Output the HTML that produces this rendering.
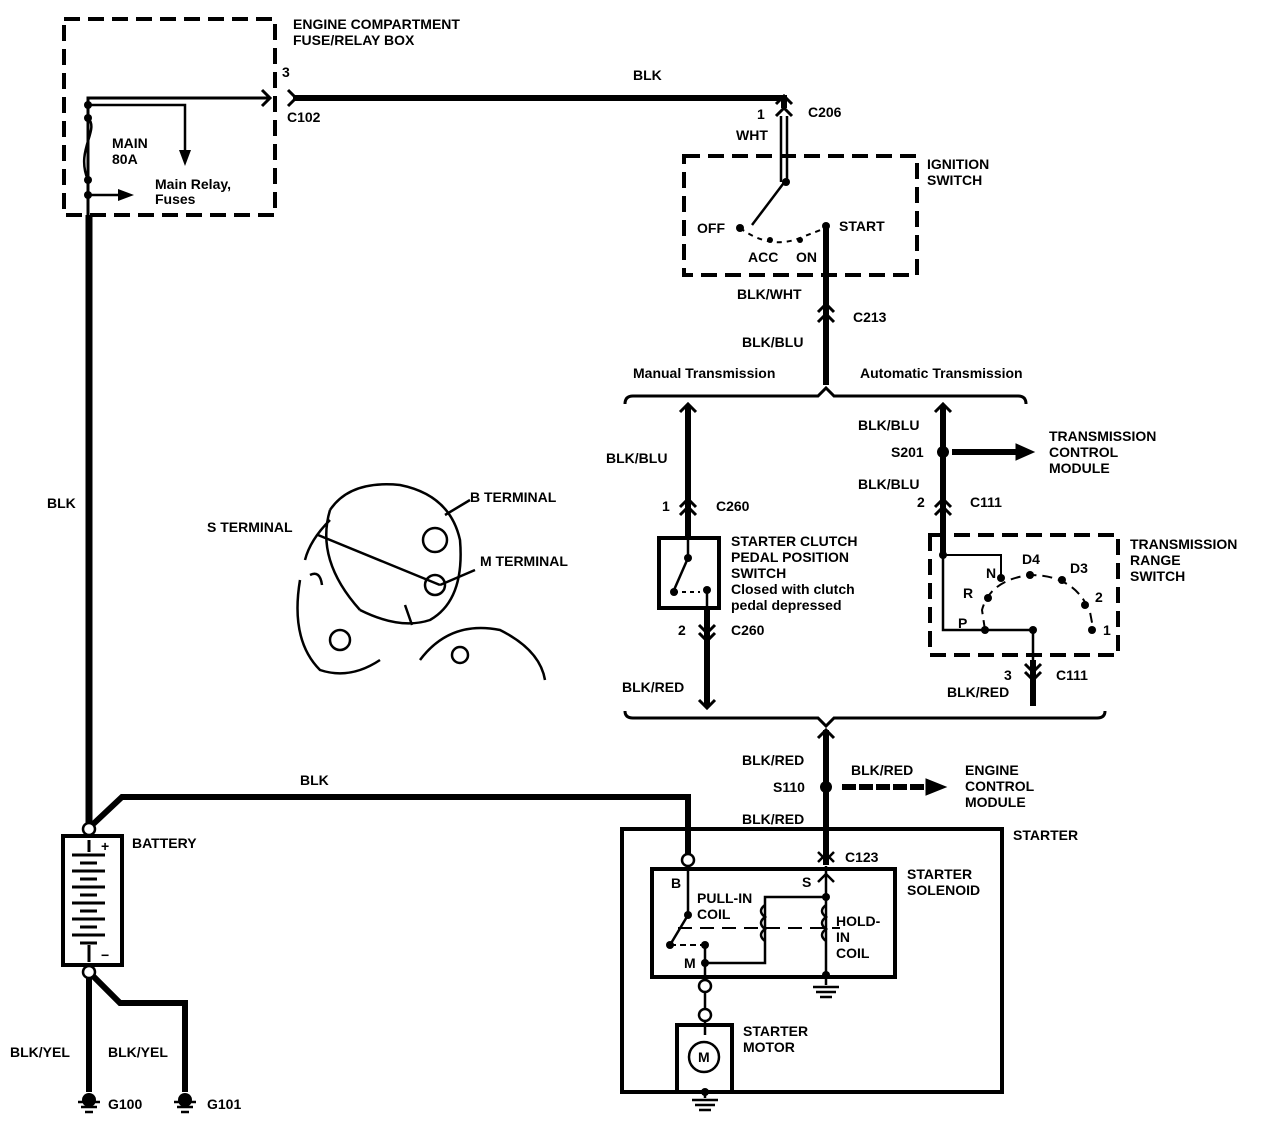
<!DOCTYPE html>
<html><head><meta charset="utf-8"><style>
html,body{margin:0;padding:0;background:#fff}
svg{display:block}
text{font-family:"Liberation Sans",Arial,sans-serif;font-weight:bold;font-size:14px;fill:#000}
</style></head><body>
<svg width="1280" height="1142" viewBox="0 0 1280 1142" xmlns="http://www.w3.org/2000/svg">
<g fill="none" stroke="#000" stroke-linecap="butt">
<!-- fuse box -->
<rect x="64" y="19" width="211" height="196" stroke-width="4" stroke-dasharray="16,8"/>
<path d="M88 215 V98 H268" stroke-width="3"/>
<path d="M262 90 L270 98 L262 106" stroke-width="3"/>
<path d="M88 105 H185 V152" stroke-width="2.5"/>
<path d="M88 118 C100 130 75 150 88 180" stroke-width="2.5"/>
<path d="M88 195 H120" stroke-width="2.5"/>
<!-- main BLK to C206 -->
<path d="M288 90 L296 98 L288 106" stroke-width="3"/>
<path d="M293 98 H784 V108" stroke-width="6"/>
<path d="M776 104 L784 96 L792 104" stroke-width="3"/>
<path d="M776 116 L784 108 L792 116" stroke-width="3"/>
<path d="M781 116 V182 M787 116 V182" stroke-width="2.5"/>
<!-- left BLK -->
<path d="M89 215 V828" stroke-width="7"/>
<!-- ignition switch -->
<rect x="684" y="156" width="233" height="119" stroke-width="4" stroke-dasharray="16,8"/>
<path d="M786 180 L752 225" stroke-width="2.5"/>
<path d="M740 228 Q770 250 800 238 Q815 232 826 228" stroke-width="2" stroke-dasharray="5,5"/>
<path d="M826 228 V385" stroke-width="6"/>
<path d="M818 312 L826 304 L834 312 M818 322 L826 314 L834 322" stroke-width="3"/>
<!-- top bracket -->
<path d="M625 404 Q625 396 633 396 H818 L826 388 L834 396 H1018 Q1026 396 1026 404" stroke-width="3"/>
<!-- manual branch -->
<path d="M688 406 V538" stroke-width="6"/>
<path d="M680 412 L688 404 L696 412" stroke-width="3"/>
<path d="M680 507 L688 499 L696 507 M680 515 L688 507 L696 515" stroke-width="3"/>
<rect x="659" y="538" width="60" height="70" stroke-width="4"/>
<path d="M688 538 V558 L674 590" stroke-width="2.5"/>
<path d="M674 592 H700" stroke-width="2" stroke-dasharray="4,4"/>
<path d="M707 590 V608" stroke-width="2.5"/>
<path d="M707 608 V706" stroke-width="6"/>
<path d="M699 625 L707 633 L715 625 M699 633 L707 641 L715 633" stroke-width="3"/>
<path d="M699 700 L707 708 L715 700" stroke-width="3"/>
<!-- auto branch -->
<path d="M943 406 V555" stroke-width="6"/>
<path d="M935 412 L943 404 L951 412" stroke-width="3"/>
<path d="M935 507 L943 499 L951 507 M935 515 L943 507 L951 515" stroke-width="3"/>
<path d="M952 452 H1020" stroke-width="6"/>
<path d="M1016 444 L1034 452 L1016 460 Z" fill="#000"/>
<rect x="930" y="535" width="188" height="120" stroke-width="4" stroke-dasharray="16,8"/>
<path d="M943 555 V630 H985 H1033 V700" stroke-width="2.5"/>
<path d="M943 555 H1001 V578" stroke-width="2"/>
<path d="M985 630 L982 610 Q990 580 1030 575 Q1075 575 1090 612 L1093 628" stroke-width="2" stroke-dasharray="10,6"/>
<path d="M1033 660 V706" stroke-width="6"/>
<path d="M1025 664 L1033 672 L1041 664 M1025 672 L1033 680 L1041 672" stroke-width="3"/>
<!-- bottom bracket -->
<path d="M625 711 Q625 718 633 718 H818 L826 726 L834 718 H1097 Q1105 718 1105 711" stroke-width="3"/>
<path d="M826 730 V865" stroke-width="6"/>
<path d="M818 738 L826 730 L834 738" stroke-width="3"/>
<path d="M842 787 H930" stroke-width="6" stroke-dasharray="14,3"/>
<path d="M926 779 L946 787 L926 795 Z" fill="#000"/>
<path d="M818 852 L826 860 L834 852 M818 862 L826 854 L834 862" stroke-width="2.5"/>
<!-- battery BLK to starter -->
<path d="M89 828 L122 797 H688 V855" stroke-width="6"/>
<!-- battery -->
<rect x="63" y="836" width="59" height="129" stroke-width="4"/>
<g stroke-width="3">
<path d="M89 840 V852 M72 855 H105 M80 863 H97 M72 871 H105 M80 879 H97 M72 887 H105 M80 895 H97 M72 903 H105 M80 911 H97 M72 919 H105 M80 927 H97 M72 935 H105 M80 943 H97 M89 945 V962"/>
</g>
<path d="M89 975 V1092" stroke-width="6"/>
<path d="M92 975 L120 1003 H185 V1092" stroke-width="6"/>
<!-- starter box -->
<rect x="622" y="829" width="380" height="263" stroke-width="4"/>
<rect x="652" y="869" width="243" height="108" stroke-width="4"/>
<path d="M688 866 V915 L670 945" stroke-width="2.5"/>
<path d="M670 945 H705" stroke-width="2" stroke-dasharray="6,4"/>
<path d="M705 945 V978 M705 963 H765 V897 H826" stroke-width="2.5"/>
<path d="M826 866 V975" stroke-width="2.5"/>
<path d="M818 882 L826 874 L834 882" stroke-width="2.5"/>
<path d="M765 905 q-8 6 0 12 q-8 6 0 12 q-8 6 0 12 M826 905 q-8 6 0 12 q-8 6 0 12 q-8 6 0 12" stroke-width="2.5"/>
<path d="M678 928 H840" stroke-width="2" stroke-dasharray="14,8"/>
<path d="M705 978 V1012 M705 1016 V1035" stroke-width="2.5"/>
<rect x="677" y="1025" width="55" height="67" stroke-width="4"/>
<circle cx="704" cy="1057" r="15" stroke-width="2.5"/>
<path d="M705 1092 V1098 M692 1100 H718 M695 1105 H715 M699 1110 H711" stroke-width="2.5"/>
<path d="M826 978 V985 M813 987 H839 M816 992 H836 M820 997 H832" stroke-width="2.5"/>
<!-- grounds -->
<path d="M78 1102 H100 M81 1107 H97 M85 1112 H93 M174 1102 H196 M177 1107 H193 M181 1112 H189" stroke-width="2.5"/>
<!-- starter illustration -->
<g stroke-width="2.5">
<path d="M330 510 Q350 480 400 485 Q450 495 460 540 Q465 600 430 620 Q400 630 360 610"/>
<path d="M330 510 Q315 560 360 610 M305 560 Q310 540 330 520"/>
<path d="M300 580 Q290 640 320 670 Q350 680 380 660"/>
<path d="M420 660 Q450 620 500 630 Q540 650 545 680"/>
<circle cx="340" cy="640" r="10"/><circle cx="460" cy="655" r="8"/>
<circle cx="435" cy="540" r="12"/><circle cx="435" cy="585" r="10"/>
<path d="M318 535 L440 585 M445 515 L470 500 M440 585 L475 570"/>
<path d="M405 605 L412 625 M310 575 q10 -5 12 10"/>
</g>
</g>
<!-- arrowheads fuse box -->
<path d="M179 150 L185 166 L191 150 Z" fill="#000"/>
<path d="M118 189 L134 195 L118 201 Z" fill="#000"/>
<!-- dots -->
<g fill="#000">
<circle cx="88" cy="105" r="4"/><circle cx="88" cy="118" r="4"/><circle cx="88" cy="180" r="4"/><circle cx="88" cy="195" r="4"/>
<circle cx="786" cy="182" r="4"/><circle cx="740" cy="228" r="4"/><circle cx="826" cy="226" r="4"/>
<circle cx="770" cy="240" r="3"/><circle cx="800" cy="240" r="3"/>
<circle cx="688" cy="558" r="4"/><circle cx="674" cy="592" r="4"/><circle cx="707" cy="590" r="4"/>
<circle cx="943" cy="452" r="6"/>
<circle cx="943" cy="555" r="4"/><circle cx="985" cy="630" r="4"/><circle cx="1033" cy="630" r="4"/><circle cx="1001" cy="578" r="4"/><circle cx="1030" cy="575" r="4"/><circle cx="1062" cy="580" r="4"/><circle cx="1085" cy="605" r="4"/><circle cx="1092" cy="630" r="4"/><circle cx="988" cy="598" r="4"/>
<circle cx="826" cy="787" r="6"/>
<circle cx="688" cy="915" r="4"/><circle cx="670" cy="945" r="4"/><circle cx="705" cy="945" r="4"/><circle cx="705" cy="963" r="4"/><circle cx="826" cy="897" r="4"/><circle cx="826" cy="975" r="4"/>
<circle cx="89" cy="1100" r="7"/><circle cx="185" cy="1100" r="7"/><circle cx="705" cy="1092" r="4"/>
</g>
<g fill="#fff" stroke="#000" stroke-width="2.5">
<circle cx="89" cy="829" r="6"/><circle cx="89" cy="972" r="6"/>
<circle cx="688" cy="860" r="6"/><circle cx="705" cy="986" r="6"/><circle cx="705" cy="1015" r="6"/>
</g>
<!-- labels -->
<text x="293" y="29">ENGINE COMPARTMENT</text>
<text x="293" y="45">FUSE/RELAY BOX</text>
<text x="282" y="77" font-size="13">3</text>
<text x="287" y="122">C102</text>
<text x="112" y="148">MAIN</text><text x="112" y="164">80A</text>
<text x="155" y="189">Main Relay,</text><text x="155" y="204">Fuses</text>
<text x="633" y="80">BLK</text>
<text x="757" y="119">1</text><text x="808" y="117">C206</text>
<text x="736" y="140">WHT</text>
<text x="927" y="169">IGNITION</text><text x="927" y="185">SWITCH</text>
<text x="697" y="233">OFF</text><text x="839" y="231">START</text>
<text x="748" y="262">ACC</text><text x="796" y="262">ON</text>
<text x="737" y="299">BLK/WHT</text>
<text x="853" y="322">C213</text>
<text x="742" y="347">BLK/BLU</text>
<text x="633" y="378">Manual Transmission</text>
<text x="860" y="378">Automatic Transmission</text>
<text x="606" y="463">BLK/BLU</text>
<text x="662" y="511">1</text><text x="716" y="511">C260</text>
<text x="731" y="546">STARTER CLUTCH</text>
<text x="731" y="562">PEDAL POSITION</text>
<text x="731" y="578">SWITCH</text>
<text x="731" y="594">Closed with clutch</text>
<text x="731" y="610">pedal depressed</text>
<text x="678" y="635">2</text><text x="731" y="635">C260</text>
<text x="622" y="692">BLK/RED</text>
<text x="858" y="430">BLK/BLU</text>
<text x="891" y="457">S201</text>
<text x="858" y="489">BLK/BLU</text>
<text x="917" y="507">2</text><text x="970" y="507">C111</text>
<text x="1049" y="441">TRANSMISSION</text><text x="1049" y="457">CONTROL</text><text x="1049" y="473">MODULE</text>
<text x="1130" y="549">TRANSMISSION</text><text x="1130" y="565">RANGE</text><text x="1130" y="581">SWITCH</text>
<text x="986" y="578">N</text><text x="1022" y="564">D4</text><text x="1070" y="573">D3</text>
<text x="963" y="598">R</text><text x="1095" y="602">2</text>
<text x="958" y="628">P</text><text x="1103" y="635">1</text>
<text x="1004" y="680">3</text><text x="1056" y="680">C111</text>
<text x="947" y="697">BLK/RED</text>
<text x="742" y="765">BLK/RED</text>
<text x="851" y="775">BLK/RED</text>
<text x="773" y="792">S110</text>
<text x="965" y="775">ENGINE</text><text x="965" y="791">CONTROL</text><text x="965" y="807">MODULE</text>
<text x="742" y="824">BLK/RED</text>
<text x="1013" y="840">STARTER</text>
<text x="845" y="862">C123</text>
<text x="907" y="879">STARTER</text><text x="907" y="895">SOLENOID</text>
<text x="671" y="888">B</text><text x="802" y="887">S</text>
<text x="697" y="903">PULL-IN</text><text x="697" y="919">COIL</text>
<text x="836" y="926">HOLD-</text><text x="836" y="942">IN</text><text x="836" y="958">COIL</text>
<text x="684" y="968">M</text>
<text x="743" y="1036">STARTER</text><text x="743" y="1052">MOTOR</text>
<text x="698" y="1062" font-size="13">M</text>
<text x="47" y="508">BLK</text>
<text x="300" y="785">BLK</text>
<text x="132" y="848">BATTERY</text>
<text x="101" y="851" font-size="12">+</text><text x="101" y="960" font-size="12">−</text>
<text x="10" y="1057">BLK/YEL</text><text x="108" y="1057">BLK/YEL</text>
<text x="108" y="1109">G100</text><text x="207" y="1109">G101</text>
<text x="470" y="502">B TERMINAL</text>
<text x="207" y="532">S TERMINAL</text>
<text x="480" y="566">M TERMINAL</text>
</g>
</svg>
</body></html>
